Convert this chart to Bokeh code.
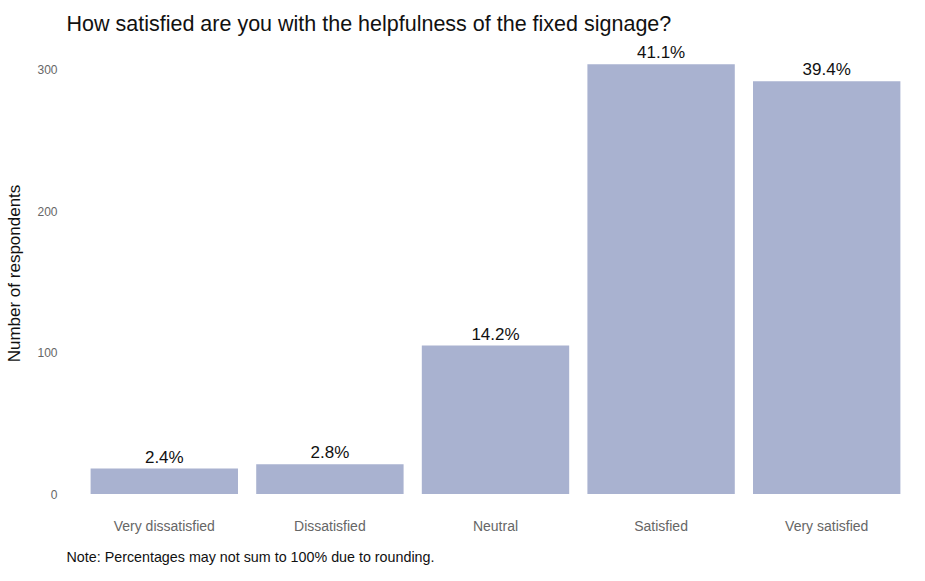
from bokeh.plotting import figure
from bokeh.models import ColumnDataSource, Range1d, FixedTicker, Title
from bokeh.core.properties import value
from bokeh.embed import file_html
from bokeh.resources import INLINE

categories = ["Very dissatisfied", "Dissatisfied", "Neutral", "Satisfied", "Very satisfied"]
counts = [18, 21, 105, 304, 292]
pct_labels = ["2.4%", "2.8%", "14.2%", "41.1%", "39.4%"]
y_ticks = [0, 100, 200, 300]

FONT = "Liberation Sans"
BAR = "#a9b2d0"

src = ColumnDataSource(dict(cat=categories, n=counts, lab=pct_labels))

p = figure(x_range=categories, y_range=Range1d(-6, 318),
           frame_width=828, frame_height=458,
           output_backend="svg", toolbar_location=None,
           min_border_left=81, min_border_right=0, min_border_top=10, min_border_bottom=0)

p.vbar(x="cat", top="n", width=0.89, source=src, fill_color=BAR, line_color=None)
p.text(x="cat", y="n", text="lab", source=src, text_align="center", text_baseline="bottom",
       y_offset=-2, text_font_size="17px", text_color="#111111", text_font=value(FONT))

p.title.text = "How satisfied are you with the helpfulness of the fixed signage?"
p.title.text_font = FONT
p.title.text_font_size = "21.5px"
p.title.text_font_style = "normal"
p.title.text_color = "#111111"
p.title.align = "left"
p.title.offset = -15
p.title.standoff = 18

note = Title(text="Note: Percentages may not sum to 100% due to rounding.", align="left",
             text_font=FONT, text_font_size="14.3px", text_font_style="normal",
             text_color="#111111", offset=-15, standoff=20)
p.add_layout(note, "below")

p.xgrid.grid_line_color = None
p.ygrid.grid_line_color = None
p.outline_line_color = None

for ax in (p.xaxis, p.yaxis):
    ax.axis_line_color = None
    ax.major_tick_line_color = None
    ax.minor_tick_line_color = None
    ax.major_label_text_font = FONT
    ax.major_label_text_color = "#666666"

p.xaxis.major_label_text_font_size = "14px"
p.yaxis.major_label_text_font_size = "12px"
p.yaxis.ticker = FixedTicker(ticks=y_ticks)
p.yaxis.major_label_standoff = 18
p.yaxis.axis_label = "Number of respondents"
p.yaxis.axis_label_text_font = FONT
p.yaxis.axis_label_text_font_size = "17px"
p.yaxis.axis_label_text_font_style = "normal"
p.yaxis.axis_label_text_color = "#111111"
p.yaxis.axis_label_standoff = 10

p.xaxis.major_label_standoff = 9
p.x_range.range_padding = 0.0

open("out.html", "w").write(file_html(p, INLINE))
